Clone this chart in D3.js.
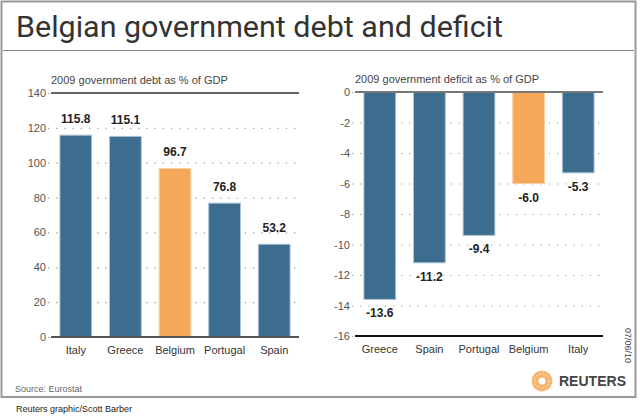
<!DOCTYPE html>
<html>
<head>
<meta charset="utf-8">
<script src="https://cdn.jsdelivr.net/npm/d3@7"></script>
<style>
  body { margin: 0; background: #fff; }
  svg { display: block; font-family: "Liberation Sans", Arial, sans-serif; }
  .grid line { stroke: #999; stroke-width: 1.2; stroke-dasharray: 1.2, 7; }
  .grid text { fill: #555; font-size: 11px; }
  .cat text { fill: #333; font-size: 11px; }
  .val { fill: #222; font-size: 12px; font-weight: bold; }
</style>
</head>
<body>
<script>
// data
const debtCountries = ["Italy", "Greece", "Belgium", "Portugal", "Spain"];
const debtValues = [115.8, 115.1, 96.7, 76.8, 53.2];
const debtTicks = [0, 20, 40, 60, 80, 100, 120, 140];

const deficitCountries = ["Greece", "Spain", "Portugal", "Belgium", "Italy"];
const deficitValues = [-13.6, -11.2, -9.4, -6.0, -5.3];
const deficitTicks = [0, -2, -4, -6, -8, -10, -12, -14, -16];

const highlight = "Belgium";

const w = 640, h = 416;
const blue = "#3c6c8e", orange = "#f5a85a";

const svg = d3.select("body").append("svg").attr("width", w).attr("height", h);

// outer frame
svg.append("rect")
  .attr("x", 1.5).attr("y", 1.5)
  .attr("width", 634).attr("height", 395.5)
  .attr("fill", "#fff").attr("stroke", "#999").attr("stroke-width", 2);

svg.append("text")
  .attr("x", 16).attr("y", 37)
  .attr("font-family", "Roboto, sans-serif")
  .attr("font-size", 30)
  .attr("fill", "#333")
  .attr("textLength", 487)
  .attr("lengthAdjust", "spacingAndGlyphs")
  .text("Belgian government debt and deficit");

svg.append("line")
  .attr("x1", 3).attr("x2", 634).attr("y1", 50.5).attr("y2", 50.5)
  .attr("stroke", "#888").attr("stroke-width", 1);

// one bar panel
const drawPanel = (opts) => {
  const { left, right, top, bottom, cats, vals, ticks, domain, subtitle, topLine, bottomLine, below } = opts;

  const x = d3.scaleBand().domain(cats).range([left, right])
    .paddingInner(0.36).paddingOuter(0.18);
  const y = d3.scaleLinear().domain(domain).range([bottom, top]);

  const g = svg.append("g");

  g.append("g")
    .attr("class", "grid")
    .attr("transform", `translate(${left},0)`)
    .call(d3.axisLeft(y).tickValues(ticks).tickSize(-(right - left) - 3)
      .tickPadding(5).tickFormat(d => String(d)))
    .call(s => s.select(".domain").remove())
    .call(s => s.selectAll(".tick line").attr("transform", "translate(-3,0)"));

  g.selectAll("rect.bar")
    .data(vals)
    .enter()
    .append("rect")
    .attr("class", "bar")
    .attr("x", (d, i) => x(cats[i]))
    .attr("width", x.bandwidth())
    .attr("y", d => Math.min(y(d), y(0)))
    .attr("height", d => Math.abs(y(d) - y(0)))
    .attr("fill", (d, i) => cats[i] === highlight ? orange : blue)
    .attr("stroke", (d, i) => cats[i] === highlight ? "#fbd2a5" : "#a9c2d6")
    .attr("stroke-width", 1);

  g.selectAll("text.val")
    .data(vals)
    .enter()
    .append("text")
    .attr("class", "val")
    .attr("text-anchor", "middle")
    .attr("x", (d, i) => x(cats[i]) + x.bandwidth() / 2)
    .attr("y", d => below ? y(d) + 18 : y(d) - 12)
    .text(d => d.toFixed(1));

  g.append("line")
    .attr("x1", left).attr("x2", right)
    .attr("y1", y(ticks[ticks.length - 1] > ticks[0] ? domain[1] : domain[1]))
    .attr("y2", y(domain[1]))
    .attr("stroke", topLine.color).attr("stroke-width", topLine.width);

  g.append("line")
    .attr("x1", left).attr("x2", right)
    .attr("y1", y(domain[0])).attr("y2", y(domain[0]))
    .attr("stroke", bottomLine.color).attr("stroke-width", bottomLine.width);

  g.append("g")
    .attr("class", "cat")
    .attr("transform", `translate(0,${bottom})`)
    .call(d3.axisBottom(x).tickSize(0).tickPadding(9))
    .call(s => s.select(".domain").remove());

  g.append("text")
    .attr("x", left).attr("y", top - 9)
    .attr("font-size", 11).attr("fill", "#444")
    .text(subtitle);
};

drawPanel({
  left: 51, right: 299, top: 93, bottom: 337,
  cats: debtCountries, vals: debtValues, ticks: debtTicks,
  domain: [0, 140],
  subtitle: "2009 government debt as % of GDP",
  topLine: { color: "#333", width: 1.5 },
  bottomLine: { color: "#555", width: 2 },
  below: false
});

drawPanel({
  left: 355, right: 603, top: 92, bottom: 336,
  cats: deficitCountries, vals: deficitValues, ticks: deficitTicks,
  domain: [-16, 0],
  subtitle: "2009 government deficit as % of GDP",
  topLine: { color: "#777", width: 2 },
  bottomLine: { color: "#111", width: 2 },
  below: true
});

// footer
svg.append("text")
  .attr("x", 15).attr("y", 392)
  .attr("font-size", 9).attr("fill", "#666")
  .text("Source: Eurostat");

svg.append("text")
  .attr("x", 16).attr("y", 412)
  .attr("font-size", 9).attr("fill", "#222")
  .text("Reuters graphic/Scott Barber");

svg.append("text")
  .attr("transform", "translate(625,328) rotate(90)")
  .attr("font-size", 9).attr("fill", "#444")
  .text("07/06/10");

// reuters mark
const logo = svg.append("g").attr("transform", "translate(542,381)");
logo.append("circle").attr("r", 10.5).attr("fill", "#f7b26c");
logo.append("circle").attr("r", 7).attr("fill", "none")
  .attr("stroke", "#fbd8b0").attr("stroke-width", 1.5).attr("stroke-dasharray", "1.5,1.5");
logo.append("circle").attr("r", 3.5).attr("fill", "#fff");
logo.append("circle").attr("r", 10).attr("fill", "none")
  .attr("stroke", "#fff").attr("stroke-width", 0.8).attr("stroke-dasharray", "1,2");

svg.append("text")
  .attr("x", 559).attr("y", 386)
  .attr("font-size", 14).attr("font-weight", "bold").attr("fill", "#444")
  .attr("textLength", 67).attr("lengthAdjust", "spacingAndGlyphs")
  .text("REUTERS");
</script>
</body>
</html>
